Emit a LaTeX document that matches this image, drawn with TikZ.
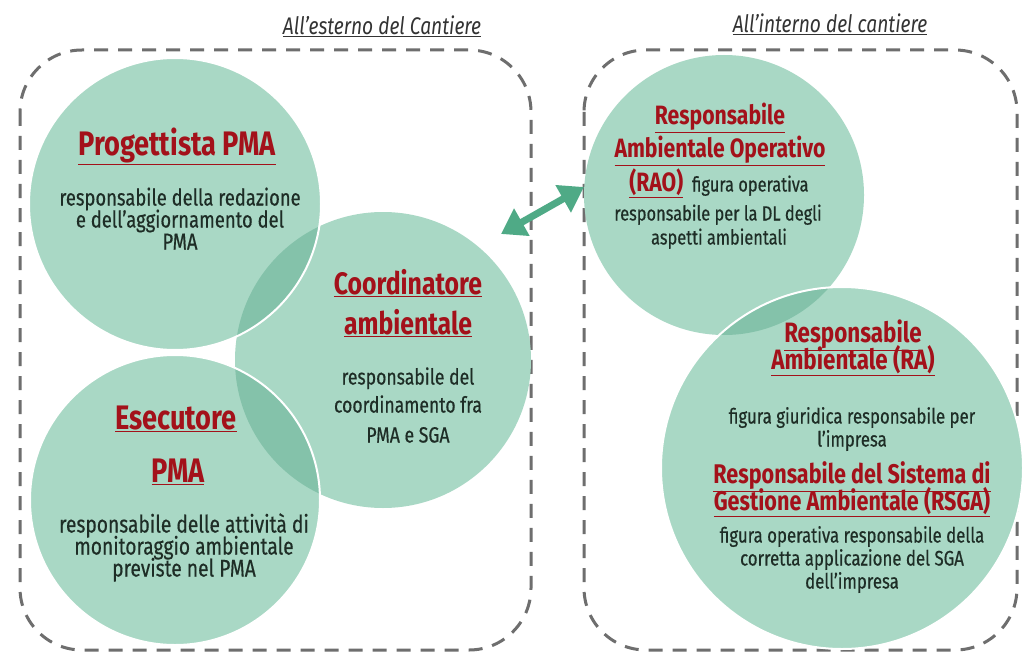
\documentclass[tikz,border=0pt]{standalone}
\usepackage{fontspec}
\setmainfont{Fira Sans}[FakeStretch=0.8]
\newfontfamily\bodyf{Fira Sans}[FakeStretch=0.8,FakeBold=0.5]
\usetikzlibrary{arrows.meta}
\definecolor{mint}{HTML}{A9D8C5}
\definecolor{lensc}{HTML}{84C2AA}
\definecolor{ttlc}{HTML}{A3111A}
\definecolor{bodyc}{HTML}{1E2D26}
\definecolor{arrc}{HTML}{4FAA86}
\definecolor{dashc}{HTML}{6E6E6E}
\definecolor{labc}{HTML}{333333}
\tikzset{
  bubble/.style={circle, fill=mint, draw=none, inner sep=0pt, minimum size=#1},
  txt/.style={inner sep=0pt, text height=0.7em, text depth=0.2em, anchor=center},
  ttl/.style={txt, text=ttlc, font=\fontsize{#1}{#1}\selectfont\bfseries},
  bdy/.style={txt, text=bodyc, font=\bodyf\fontsize{#1}{#1}\selectfont},
  lab/.style={txt, text=labc, font=\fontsize{24}{24}\selectfont\itshape},
  zone/.style={draw=dashc, line width=3pt, dash pattern=on 14pt off 10pt, rounded corners=62pt},
  rim/.style={draw=white, line width=2pt},
  link/.style={draw=arrc, line width=7pt, {Triangle[length=24pt,width=30pt]}-{Triangle[length=24pt,width=30pt]}}
}
\begin{document}
\begin{tikzpicture}[x=1pt,y=-1pt]
\useasboundingbox (0,0) rectangle (1027,655);
\fill[white] (0,0) rectangle (1027,655);

% zones
\node[lab] (labL) at (382,32) {\underline{All’esterno del Cantiere}};
\node[lab] (labR) at (830,30) {\underline{All’interno del cantiere}};
\draw[zone] (20,50) rectangle (531,650);
\draw[zone] (584,50) rectangle (1017,650);

% bubbles
\node[bubble=292pt] (P) at (175,204) {};
\node[bubble=290pt] (E) at (175,500) {};
\node[bubble=296pt] (C) at (383,360) {};
\node[bubble=280pt] (R) at (724,195) {};
\node[bubble=362pt] (A) at (842,468) {};

% overlaps
\begin{scope}
  \clip (P.center) circle[radius=146pt];
  \fill[lensc] (C.center) circle[radius=148pt];
\end{scope}
\begin{scope}
  \clip (E.center) circle[radius=145pt];
  \fill[lensc] (C.center) circle[radius=148pt];
\end{scope}
\begin{scope}
  \clip (R.center) circle[radius=140pt];
  \fill[lensc] (A.center) circle[radius=181pt];
\end{scope}
\draw[rim] (P.center) circle[radius=146pt];
\draw[rim] (E.center) circle[radius=145pt];
\draw[rim] (A.center) circle[radius=181pt];

% arrow
\coordinate (a1) at (501,234);
\coordinate (a2) at (584,187);
\draw[link] (a1) -- (a2);

% Progettista
\node[ttl=34] (p0) at (177,153) {\underline{Progettista PMA}};
\node[bdy=23] (p1) at (180,203) {responsabile della redazione};
\node[bdy=23] (p2) at (180,225) {e dell’aggiornamento del};
\node[bdy=23] (p3) at (180,247) {PMA};

% Esecutore
\node[ttl=34] (e0) at (176,427) {\underline{Esecutore}};
\node[ttl=34] (e1) at (178,480) {\underline{PMA}};
\node[bdy=24] (e2) at (184,530) {responsabile delle attività di};
\node[bdy=24] (e3) at (184,552) {monitoraggio ambientale};
\node[bdy=24] (e4) at (184,574) {previste nel PMA};

% Coordinatore
\node[ttl=31] (c0) at (408,292) {\underline{Coordinatore}};
\node[ttl=31] (c1) at (408,332) {\underline{ambientale}};
\node[bdy=22] (c2) at (408,382) {responsabile del};
\node[bdy=22] (c3) at (408,410) {coordinamento fra};
\node[bdy=22] (c4) at (408,440) {PMA e SGA};

% RAO
\node[ttl=26.5] (r0) at (720,122) {\underline{Responsabile}};
\node[ttl=26.5] (r1) at (720,155) {\underline{Ambientale Operativo}};
\node[bdy=20.5] (r2) at (719,189) {{\color{ttlc}\rmfamily\bfseries\fontsize{26.5}{26.5}\selectfont\underline{(RAO)}}\ \ figura operativa};
\node[bdy=20.5] (r3) at (718,218) {responsabile per la DL degli};
\node[bdy=20.5] (r4) at (719,242) {aspetti ambientali};

% RA / RSGA
\node[ttl=28] (s0) at (853,340) {\underline{Responsabile}};
\node[ttl=28] (s1) at (853,367) {\underline{Ambientale (RA)}};
\node[bdy=21] (s2) at (852,421) {figura giuridica responsabile per};
\node[bdy=21] (s3) at (852,444) {l’impresa};
\node[ttl=27] (s4) at (852,481) {\underline{Responsabile del Sistema di}};
\node[ttl=27] (s5) at (852,508) {\underline{Gestione Ambientale (RSGA)}};
\node[bdy=21] (s6) at (852,540) {figura operativa responsabile della};
\node[bdy=21] (s7) at (852,563) {corretta applicazione del SGA};
\node[bdy=21] (s8) at (852,586) {dell’impresa};
\end{tikzpicture}
\end{document}
